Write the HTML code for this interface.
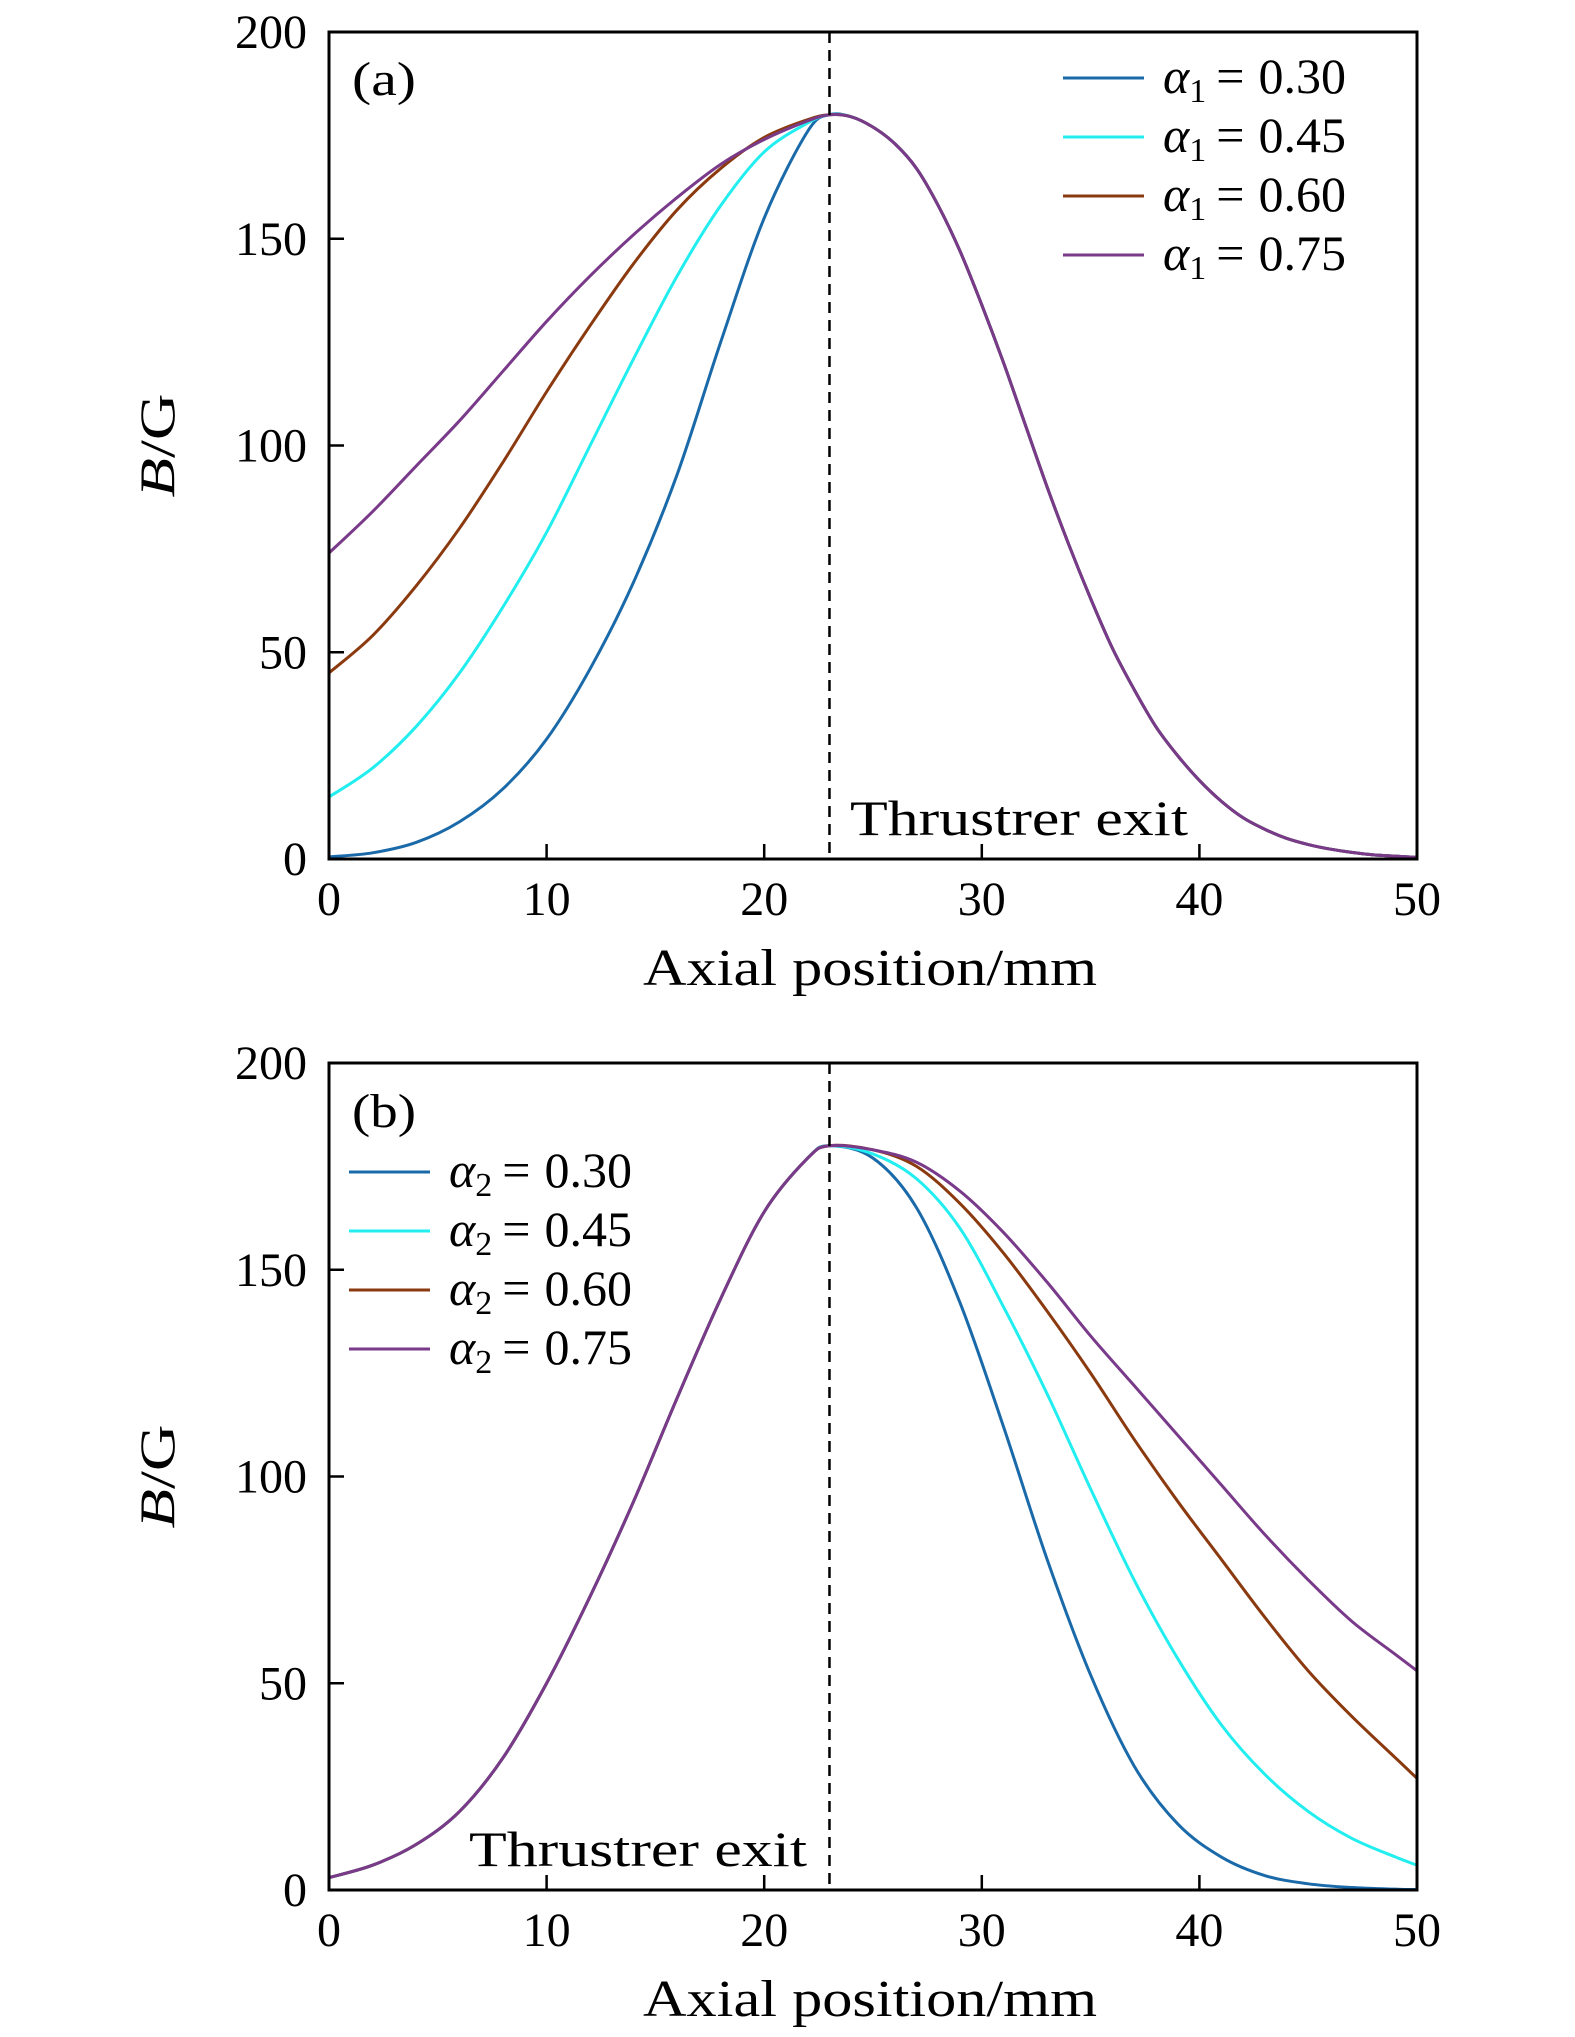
<!DOCTYPE html>
<html><head><meta charset="utf-8"><style>
html,body{margin:0;padding:0;background:#fff;}
svg{display:block;}
text{font-family:"Liberation Serif",serif;fill:#000;}
</style></head><body>
<svg id="fig" width="1575" height="2037" viewBox="0 0 1575 2037" xmlns="http://www.w3.org/2000/svg">
<g id="pa"></g>
<g id="pb"></g>
</svg>
<script>
const xTicks = [0,10,20,30,40,50];
const yTicks = [0,50,100,150,200];
const labels = ["0.30","0.45","0.60","0.75"];
const colors = ["#1a6aaa","#22eef0","#8b3a0f","#7a3a8a"];
const exitX = 23;
const aLeftX = [0,2,4,6,8,10,12,14,16,18,20,22,23];
const aLeft030 = [0.5,1.5,4,9,17,29,46,67,93,125,155,176,180];
const aLeft045 = [15,22,32,45,61,79,100,121,141,158,171,178,180];
const aLeft060 = [45,54,66,80,96,113,129,144,157,167,174.5,178.8,180];
const aLeft075 = [74,84,95,106,118,130,141,151,160,168,174,178.5,180];
const aRightX = [23,24,25,26,27,28,29,30,31,32,33,34,35,36,37,38,39,40,41,42,43,44,45,46,47,48,49,50];
const aRight = [180,179.5,177,173,167,158,147,134,120,105,90,76,63,51,41,32,25,19,14,10,7.2,5,3.5,2.4,1.6,1,0.7,0.4];
const bLeftX = [0,2,4,6,8,10,12,14,16,18,20,22,23];
const bLeft = [3,6,11,19,32,50,71,94,119,143,164,177,180];
const bRightX = [23,25,27,29,31,33,35,37,39,41,43,45,47,49,50];
const bRight030 = [180,177,165,142,112,80,52,30,16,8,3.5,1.5,0.6,0.2,0.1];
const bRight045 = [180,178,172,160,141,120,97,75,56,40,28,19,12.5,8,6];
const bRight060 = [180,179,175,166,154,140,125,109,94,80,66,53,42,32,27];
const bRight075 = [180,179,176,169,159,147,134,122,110,98,86,75,65,57,53];

const NS="http://www.w3.org/2000/svg";
function el(tag,attrs,parent){const e=document.createElementNS(NS,tag);for(const k in attrs)e.setAttribute(k,attrs[k]);parent.appendChild(e);return e;}

function smoothPath(pts){
  let d="M"+pts[0][0].toFixed(2)+","+pts[0][1].toFixed(2);
  for(let i=0;i<pts.length-1;i++){
    const p0=pts[Math.max(0,i-1)],p1=pts[i],p2=pts[i+1],p3=pts[Math.min(pts.length-1,i+2)];
    const c1=[p1[0]+(p2[0]-p0[0])/6,p1[1]+(p2[1]-p0[1])/6];
    const c2=[p2[0]-(p3[0]-p1[0])/6,p2[1]-(p3[1]-p1[1])/6];
    d+=" C"+c1[0].toFixed(2)+","+c1[1].toFixed(2)+" "+c2[0].toFixed(2)+","+c2[1].toFixed(2)+" "+p2[0].toFixed(2)+","+p2[1].toFixed(2);
  }
  return d;
}

function panel(g,top,bottom,tag,sub,lefts,leftXs,rights,rightXs,legX,legY,exitLabelX,tagY){
  const L=329,R=1417;
  const sx=v=>L+(R-L)*v/50, sy=v=>bottom-(bottom-top)*v/200;
  for(let i=0;i<4;i++){
    const lx=leftXs, ly=lefts[i], rx=rightXs, ry=rights[i];
    const pts=[];
    for(let j=0;j<lx.length;j++)pts.push([sx(lx[j]),sy(ly[j])]);
    for(let j=1;j<rx.length;j++)pts.push([sx(rx[j]),sy(ry[j])]);
    const p=el("path",{d:smoothPath(pts),fill:"none",stroke:colors[i],"stroke-width":3},g);
    
    
  }
  const dl=el("line",{x1:sx(exitX),x2:sx(exitX),y1:top,y2:bottom,stroke:"#000","stroke-width":2.5,"stroke-dasharray":"11,7"},g);
  
  
  const et=el("text",{x:exitLabelX,y:bottom-24,"font-size":50,textLength:338,lengthAdjust:"spacingAndGlyphs"},g);
  et.textContent="Thrustrer exit";
  
  
  const fr=el("rect",{x:L,y:top,width:R-L,height:bottom-top,fill:"none",stroke:"#000","stroke-width":3},g);
  
  
  xTicks.forEach(t=>{
    const tl=el("line",{x1:sx(t),x2:sx(t),y1:bottom,y2:bottom-15,stroke:"#000","stroke-width":2.5},g);
    
    
    const tx=el("text",{x:sx(t),y:bottom+56,"font-size":48,"text-anchor":"middle"},g);
    tx.textContent=t;
    
    
  });
  yTicks.forEach(t=>{
    const tl=el("line",{x1:L,x2:L+15,y1:sy(t),y2:sy(t),stroke:"#000","stroke-width":2.5},g);
    
    
    const tx=el("text",{x:307,y:sy(t)+16,"font-size":48,"text-anchor":"end"},g);
    tx.textContent=t;
    
    
  });
  const xt=el("text",{x:643,y:bottom+126,"font-size":52,textLength:454,lengthAdjust:"spacingAndGlyphs"},g);
  xt.textContent="Axial position/mm";
  
  
  const yt=el("text",{transform:"translate(174,"+((top+bottom)/2)+") rotate(-90)","font-size":50,"text-anchor":"middle",textLength:104,lengthAdjust:"spacingAndGlyphs"},g);
  yt.innerHTML='<tspan font-style="italic">B</tspan>/G';
  
  
  const pt=el("text",{x:352,y:tagY,"font-size":48,textLength:64,lengthAdjust:"spacingAndGlyphs"},g);
  pt.textContent=tag;
  
  
  for(let i=0;i<4;i++){
    const y=legY+i*59;
    const ll=el("line",{x1:legX,x2:legX+81,y1:y,y2:y,stroke:colors[i],"stroke-width":3},g);
    
    
    const lt=el("text",{x:legX+100,y:y+15,"font-size":50},g);
    lt.innerHTML='<tspan font-style="italic">α</tspan><tspan font-size="34" dy="9">'+sub+'</tspan><tspan dy="-9" dx="10">=</tspan><tspan dx="14">'+labels[i]+'</tspan>';
    
    
  }
}
panel(document.getElementById('pa'),32,859,"(a)","1",
  [aLeft030,aLeft045,aLeft060,aLeft075],aLeftX,[aRight,aRight,aRight,aRight],aRightX,1063,78,850,95);
panel(document.getElementById('pb'),1063,1890,"(b)","2",
  [bLeft,bLeft,bLeft,bLeft],bLeftX,[bRight030,bRight045,bRight060,bRight075],bRightX,349,1172,469,1127);
</script>
</body></html>
